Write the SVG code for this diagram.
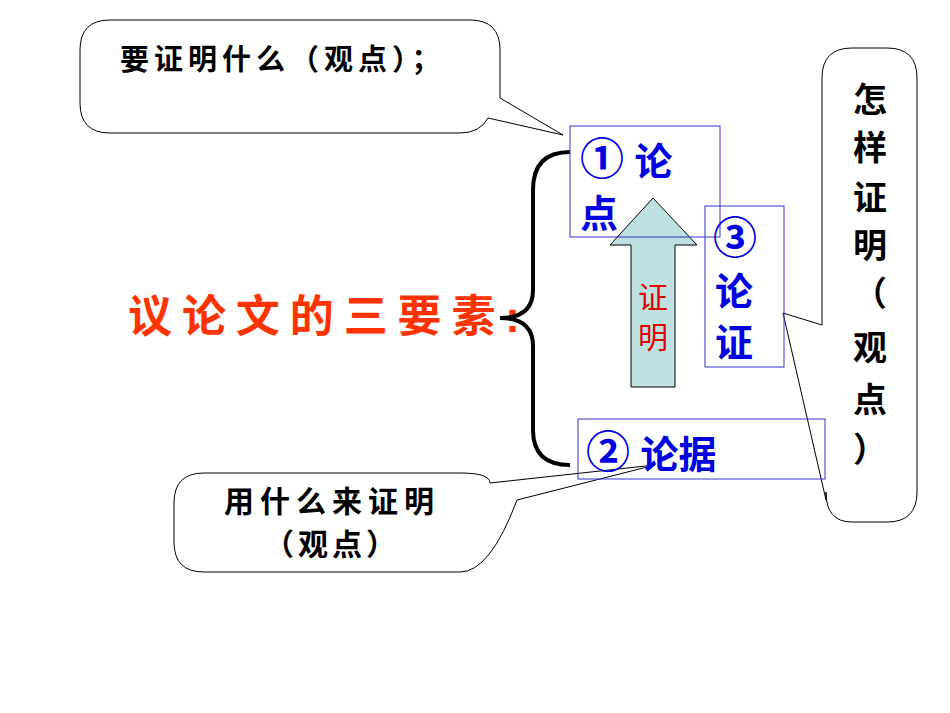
<svg xmlns="http://www.w3.org/2000/svg" width="950" height="713" viewBox="0 0 950 713">
<style>
.c{fill:#fff;stroke:#000;stroke-width:1}
.b{fill:none;stroke:#3333cc;stroke-width:1}
.t{font-family:"Liberation Sans","Noto Sans CJK SC",sans-serif;font-weight:bold}
.k{font-family:"Noto Sans CJK SC",sans-serif;font-weight:bold}
.bl{fill:#0000e0}
</style>
<rect width="950" height="713" fill="#fff"/>
<g id="callout-top">
<path class="c" d="M110,20 H470 Q500,20 500,50 V98 L563,135 L488,118 Q480,133 460,133 H110 Q80,133 80,103 V50 Q80,20 110,20 Z"/>
<text class="k" x="120" y="70" font-size="29" letter-spacing="5">要证明什么（观点）；</text>
</g>
<g id="callout-right">
<path class="c" d="M852,48 H887 Q917,48 917,78 V492 Q917,522 887,522 H852 Q826,522 826,492 V500 L783,313 L822,325 V78 Q822,48 852,48 Z"/>
<g class="t" font-size="34" text-anchor="middle">
<text x="870" y="112">怎</text><text x="870" y="160">样</text><text x="870" y="210">证</text><text x="870" y="258">明</text><text x="870" y="306">（</text><text x="870" y="360">观</text><text x="870" y="412">点</text><text x="870" y="462">）</text>
</g>
</g>
<g id="callout-bottom">
<path class="c" d="M204,473 H460 Q490,473 490,483 L655,465 L517,500 Q490,572 460,572 H204 Q174,572 174,542 V503 Q174,473 204,473 Z"/>
<text class="k" x="332" y="512" font-size="30" letter-spacing="6" text-anchor="middle">用什么来证明</text>
<text class="k" x="332" y="555" font-size="30" letter-spacing="4" text-anchor="middle">（观点）</text>
</g>
<g id="title"><text class="t" x="128" y="332" font-size="44" fill="#ff3300" textLength="392" lengthAdjust="spacing">议论文的三要素:</text></g>
<g id="connectors">
<path d="M570,152 Q533,152 533,190 V290 Q533,318 500,318 Q533,318 533,346 V430 Q533,465 570,465" fill="none" stroke="#000" stroke-width="4"/>
<path d="M653,198 L697,245 H675 V387 H631 V245 H610 Z" fill="#bfe0e0" stroke="#000" stroke-width="1"/>
<text x="653" y="308" font-size="30" fill="#e00000" text-anchor="middle" font-family="Liberation Sans,Noto Sans CJK SC,sans-serif">证</text>
<text x="653" y="348" font-size="30" fill="#e00000" text-anchor="middle" font-family="Liberation Sans,Noto Sans CJK SC,sans-serif">明</text>
</g>
<g id="n1"><rect class="b" x="570" y="126" width="150" height="111"/>
<text class="t bl" x="580" y="175" font-size="38"><tspan font-size="44">①</tspan> 论</text><text class="t bl" x="580" y="227" font-size="38">点</text></g>
<g id="n3"><rect class="b" x="705" y="206" width="79" height="161"/>
<text class="t bl" x="713" y="254" font-size="44">③</text><text class="t bl" x="715" y="305" font-size="38">论</text><text class="t bl" x="715" y="356" font-size="38">证</text></g>
<g id="n2"><rect class="b" x="578" y="419" width="247" height="60"/>
<text class="t bl" x="586" y="468" font-size="38"><tspan font-size="44">②</tspan> 论据</text></g>
</svg>
